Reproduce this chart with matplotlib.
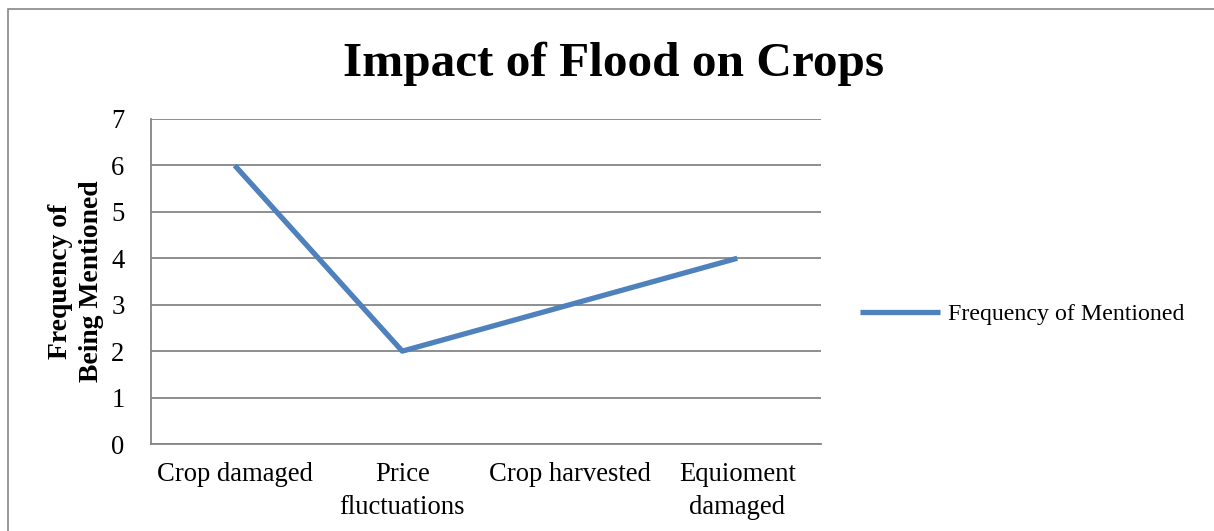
import matplotlib
matplotlib.use("Agg")
import matplotlib.pyplot as plt
from matplotlib.patches import Rectangle

# data
categories = ["Crop damaged", "Price\nfluctuations", "Crop harvested", "Equioment\ndamaged"]
frequency = [6, 2, 3, 4]
y_ticks = [0, 1, 2, 3, 4, 5, 6, 7]

plt.rcParams['font.family'] = ['Liberation Serif', 'DejaVu Serif']

fig = plt.figure(figsize=(12.14, 5.31), dpi=100)
ax = fig.add_axes([151 / 1214, 1 - 444 / 531, 670 / 1214, 325 / 531])

x = list(range(len(categories)))
ax.plot(x, frequency, color='#4F81BD', linewidth=3.8, solid_capstyle='butt',
        label='Frequency of Mentioned')

ax.set_xlim(-0.5, len(categories) - 0.5)
ax.set_ylim(0, 7)
ax.set_yticks(y_ticks)
ax.set_xticks(x)
ax.set_xticklabels(categories, linespacing=1.4)
ax.tick_params(axis='both', length=0, labelsize=19.2, colors='black')
ax.tick_params(axis='y', pad=19)
ax.tick_params(axis='x', pad=13)

ax.grid(axis='y', color='#868686', linewidth=1.3)
ax.set_axisbelow(True)
for s in ['top', 'right']:
    ax.spines[s].set_visible(False)
for s in ['left', 'bottom']:
    ax.spines[s].set_color('#868686')
    ax.spines[s].set_linewidth(1.3)

ax.set_ylabel("Frequency of\nBeing Mentioned", fontsize=19.9, fontweight='bold',
              linespacing=1.3)
ax.yaxis.set_label_coords(-0.07, 0.5)

fig.text(0.505, 0.879, "Impact of Flood on Crops", fontsize=35.5, fontweight='bold',
         ha='center', va='center')

leg = ax.legend(loc='center left', bbox_to_anchor=(860 / 1214, 1 - 314 / 531),
                bbox_transform=fig.transFigure, frameon=False, fontsize=17.2,
                handlelength=3.35, handletextpad=0.33, borderpad=0, borderaxespad=0)

# outer chart border (right and bottom run off the picture)
fig.add_artist(Rectangle((8 / 1214, -0.1), 1.2, 1.1 - 9 / 531, transform=fig.transFigure,
                         fill=False, edgecolor='#888888', linewidth=1.2))

fig.savefig("out.png", dpi=100)
